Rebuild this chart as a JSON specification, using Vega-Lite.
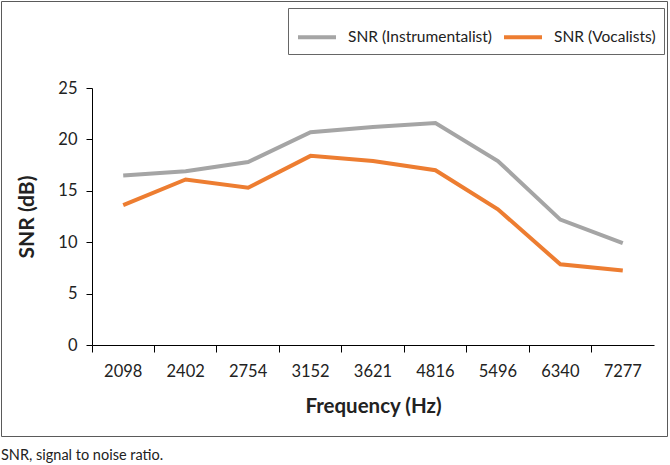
{
  "$schema": "https://vega.github.io/schema/vega-lite/v6.json",
  "width": 666,
  "height": 435,
  "autosize": {"type": "none"},
  "padding": {"left": 1, "top": 1, "right": 3, "bottom": 29},
  "background": "white",
  "config": {
    "font": "Lato",
    "view": {"stroke": "#5a5a5a", "strokeWidth": 1}
  },
  "title": {
    "text": "SNR, signal to noise ratio.",
    "orient": "bottom",
    "anchor": "start",
    "frame": "group",
    "font": "Lato",
    "fontSize": 14.5,
    "fontWeight": "normal",
    "color": "#222222",
    "offset": 13
  },
  "data": {
    "values": [
      {"freq": "2098", "series": "SNR (Instrumentalist)", "snr": 16.5},
      {"freq": "2402", "series": "SNR (Instrumentalist)", "snr": 16.9},
      {"freq": "2754", "series": "SNR (Instrumentalist)", "snr": 17.8},
      {"freq": "3152", "series": "SNR (Instrumentalist)", "snr": 20.7},
      {"freq": "3621", "series": "SNR (Instrumentalist)", "snr": 21.2},
      {"freq": "4816", "series": "SNR (Instrumentalist)", "snr": 21.6},
      {"freq": "5496", "series": "SNR (Instrumentalist)", "snr": 17.9},
      {"freq": "6340", "series": "SNR (Instrumentalist)", "snr": 12.2},
      {"freq": "7277", "series": "SNR (Instrumentalist)", "snr": 9.9},
      {"freq": "2098", "series": "SNR (Vocalists)", "snr": 13.6},
      {"freq": "2402", "series": "SNR (Vocalists)", "snr": 16.1},
      {"freq": "2754", "series": "SNR (Vocalists)", "snr": 15.3},
      {"freq": "3152", "series": "SNR (Vocalists)", "snr": 18.4},
      {"freq": "3621", "series": "SNR (Vocalists)", "snr": 17.9},
      {"freq": "4816", "series": "SNR (Vocalists)", "snr": 17.0},
      {"freq": "5496", "series": "SNR (Vocalists)", "snr": 13.2},
      {"freq": "6340", "series": "SNR (Vocalists)", "snr": 7.85},
      {"freq": "7277", "series": "SNR (Vocalists)", "snr": 7.25}
    ]
  },
  "mark": {"type": "line", "strokeWidth": 4},
  "encoding": {
    "x": {
      "field": "freq",
      "type": "ordinal",
      "sort": null,
      "bandPosition": 0.5,
      "scale": {"type": "band", "range": [91, 653], "paddingInner": 0, "paddingOuter": 0},
      "axis": {
        "title": "Frequency (Hz)",
        "offset": -91,
        "bandPosition": 0,
        "labelAngle": 0,
        "labelFont": "Lato",
        "labelFontSize": 16.5,
        "labelColor": "#222222",
        "labelPadding": 11,
        "tickSize": 7,
        "tickColor": "#000000",
        "domainColor": "#000000",
        "titleFont": "Lato",
        "titleFontSize": 20.5,
        "titleFontWeight": "bold",
        "titleColor": "#222222",
        "titlePadding": 17
      }
    },
    "y": {
      "field": "snr",
      "type": "quantitative",
      "scale": {"domain": [0, 25], "range": [344, 87], "nice": false, "zero": true},
      "axis": {
        "title": "SNR (dB)",
        "offset": -91,
        "values": [0, 5, 10, 15, 20, 25],
        "grid": false,
        "labelFont": "Lato",
        "labelFontSize": 16.5,
        "labelColor": "#222222",
        "labelPadding": 9,
        "tickSize": 6,
        "tickColor": "#000000",
        "domainColor": "#000000",
        "titleFont": "Lato",
        "titleFontSize": 21,
        "titleFontWeight": "bold",
        "titleColor": "#222222",
        "titlePadding": 20
      }
    },
    "color": {
      "field": "series",
      "type": "nominal",
      "scale": {"domain": ["SNR (Instrumentalist)", "SNR (Vocalists)"], "range": ["#A5A5A5", "#ED7D31"]},
      "legend": {
        "title": null,
        "orient": "none",
        "direction": "horizontal",
        "legendX": 287,
        "legendY": 7,
        "strokeColor": "#666666",
        "padding": 8,
        "labelFont": "Lato",
        "labelFontSize": 15.5,
        "labelColor": "#222222",
        "symbolType": "stroke",
        "symbolSize": 1444,
        "symbolStrokeWidth": 4,
        "columnPadding": 3,
        "labelOffset": 10
      }
    }
  }
}
